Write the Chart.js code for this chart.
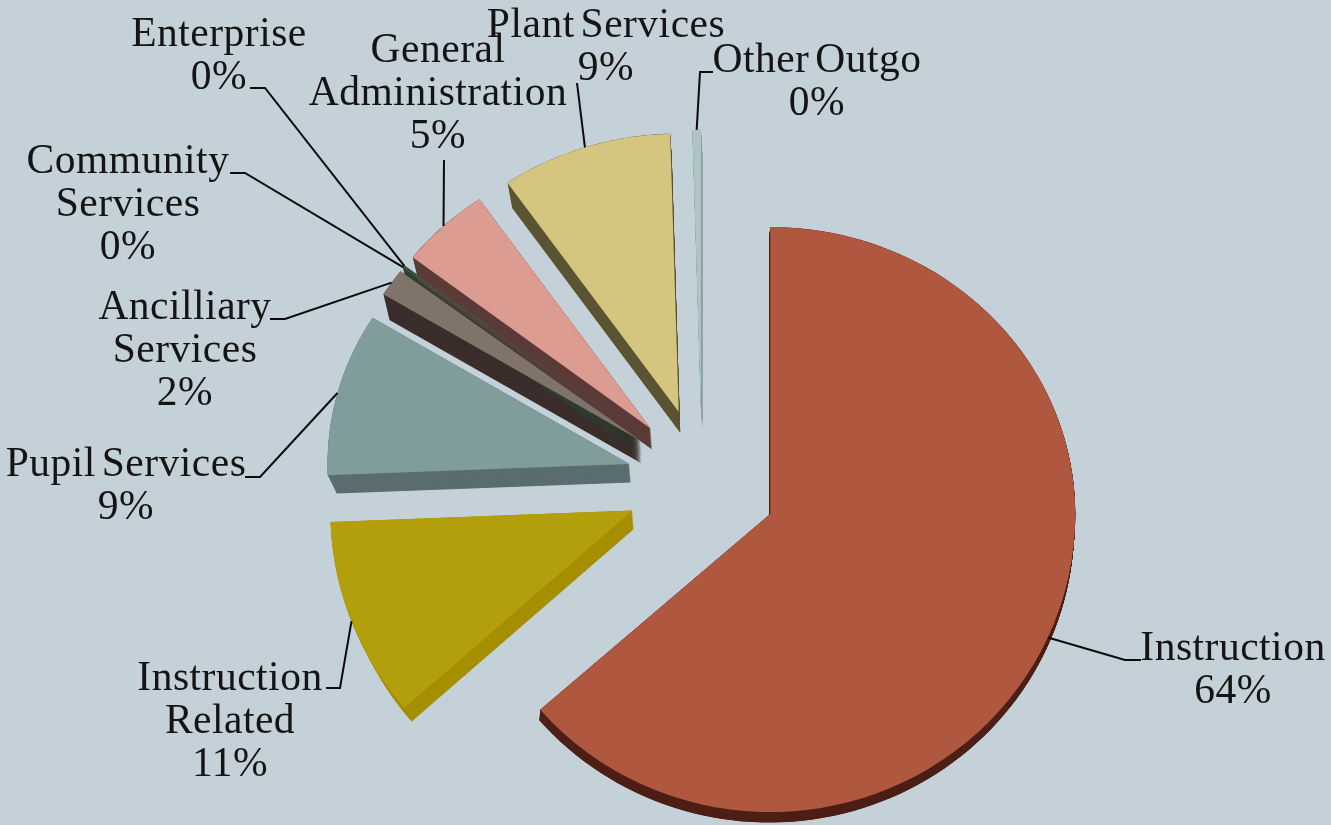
<!DOCTYPE html>
<html>
<head>
<meta charset="utf-8">
<style>
html,body{margin:0;padding:0;background:#c5d1d8;overflow:hidden}
canvas{display:block}
</style>
<script src="https://cdn.jsdelivr.net/npm/chart.js@4/dist/chart.umd.min.js"></script>
</head>
<body>
<canvas id="c" width="1331" height="825" style="width:1331px;height:825px"></canvas>
<script>
const categories = ["Instruction","Instruction Related","Pupil Services","Ancilliary Services","Community Services","Enterprise","General Administration","Plant Services","Other Outgo"];
const values = [63.6,10.8,9.4,1.6,0.1,0.05,4.85,9.15,0.45];
const labelLines = [["Instruction"],["Instruction","Related"],["Pupil Services"],["Ancilliary","Services"],["Community","Services"],["Enterprise"],["General","Administration"],["Plant Services"],["Other Outgo"]];
const faceColors = ["#b0573f","#b39e0b","#819c9d","#80736a","#3f5645","#3f5645","#dc9c91","#d5c67f","#aec3c6"];
const sideColors = ["#4e2017","#a58f00","#5a6e70","#3b2e2b","#2f4034","#2f4034","#5b3b38","#5b5433","#8fa3a6"];

const EXPLODE = 75, RADIUS = 305;
const FONT = '41.5px "Liberation Serif"';

/* label block: centre x, first baseline */
const labelAnchor = [[1233,660],[230,690],[126,476],[185,319],[128,173],[219,46],[438,62],[606,37],[817,72]];
/* leader: points running from the text side toward the slice */
const leaderBends = [
  [[1141,660],[1125,660]],
  [[326,688],[340,688]],
  [[245,477],[260,477]],
  [[270,319],[285,319]],
  [[230,173],[245,173]],
  [[250,88],[265,88]],
  [[444,160]],
  [[577,83]],
  [[713,72],[700,72]]
];

/* foreshortening: vertical above and below each slice's apex, horizontal */
function squash(i){ return i===0 ? [0.941,0.977,1] : [0.912,0.985,0.99]; }
/* thickness: dx, dy, shrink */
function depth(i){ return i===0 ? [-1,10.5,1] : (i<3 ? [1.5,18.5,0.975] : (i===3 ? [1.5,23,0.982] : [1.5,21,0.982])); }
function mid(a){ return (a.startAngle+a.endAngle)/2; }
function apex(a){ const m=mid(a); return [a.x+Math.cos(m)*EXPLODE, a.y+Math.sin(m)*EXPLODE]; }

/* the library's offset also grows the radius, so explode each arc rigidly */
const baseDraw = Chart.ArcElement.prototype.draw;
Chart.ArcElement.prototype.draw = function(ctx){
  const [ax,ay] = apex(this);
  const idx = this.$context ? this.$context.index : 0;
  const [up,low,hs] = squash(idx);
  [[up,-2000,2000.5],[low,0,2000]].forEach(([s,top,h])=>{
    ctx.save();
    ctx.translate(ax,ay);
    ctx.beginPath();
    ctx.rect(-2000,top,4000,h);
    ctx.clip();
    ctx.scale(hs,s);
    ctx.translate(-this.x,-this.y);
    baseDraw.call(this,ctx);
    ctx.restore();
  });
};

const pie3d = {
  id:'pie3d',
  beforeDatasetsDraw(chart){
    const ctx = chart.ctx;
    chart.getDatasetMeta(0).data.forEach((a,i)=>{
      const [ax,ay] = apex(a);
      const [dx,dy,s] = depth(i);
      const [up,low,hs] = squash(i);
      ctx.fillStyle = sideColors[i];
      const N = 40, STEPS = 120;
      for(let k=N;k>=0;k--){
        const t=k/N, x=ax+dx*t, y=ay+dy*t, r=a.outerRadius*(1-(1-s)*t);
        ctx.beginPath();
        ctx.moveTo(x,y);
        for(let q=0;q<=STEPS;q++){
          const th=a.startAngle+(a.endAngle-a.startAngle)*q/STEPS, sn=Math.sin(th);
          ctx.lineTo(x+r*hs*Math.cos(th), y+r*sn*(sn<0?up:low));
        }
        ctx.closePath();
        ctx.fill();
      }
    });
  },
  afterDatasetsDraw(chart){
    const ctx = chart.ctx;
    const arcs = chart.getDatasetMeta(0).data;
    ctx.save();
    ctx.strokeStyle="#0b0b0b"; ctx.lineWidth=2; ctx.lineJoin="miter";
    arcs.forEach((a,i)=>{
      const m = mid(a), [ax,ay]=apex(a), [up,low,hs]=squash(i), sn=Math.sin(m);
      const ex = ax+Math.cos(m)*a.outerRadius*hs;
      const ey = ay+sn*a.outerRadius*(sn<0?up:low);
      ctx.beginPath();
      leaderBends[i].forEach((p,j)=> j?ctx.lineTo(p[0],p[1]):ctx.moveTo(p[0],p[1]));
      ctx.lineTo(ex,ey);
      ctx.stroke();
    });
    ctx.fillStyle="#141414"; ctx.font=FONT; ctx.textAlign="center"; ctx.textBaseline="alphabetic";
    if('letterSpacing' in ctx) ctx.letterSpacing="0.5px";
    if('wordSpacing' in ctx) ctx.wordSpacing="-5px";
    categories.forEach((c,i)=>{
      const lines = labelLines[i].concat([Math.round(values[i])+"%"]);
      lines.forEach((t,j)=>ctx.fillText(t,labelAnchor[i][0],labelAnchor[i][1]+j*43));
    });
    ctx.restore();
  }
};

new Chart(document.getElementById('c'),{
  type:'pie',
  data:{labels:categories,datasets:[{data:values,backgroundColor:faceColors,borderWidth:0,clip:false,radius:RADIUS}]},
  options:{
    responsive:false,animation:false,
    rotation:0,
    layout:{padding:{left:73,right:0,top:141,bottom:0}},
    plugins:{legend:{display:false},tooltip:{enabled:false},title:{display:false}}
  },
  plugins:[pie3d]
});
</script>
</body>
</html>
